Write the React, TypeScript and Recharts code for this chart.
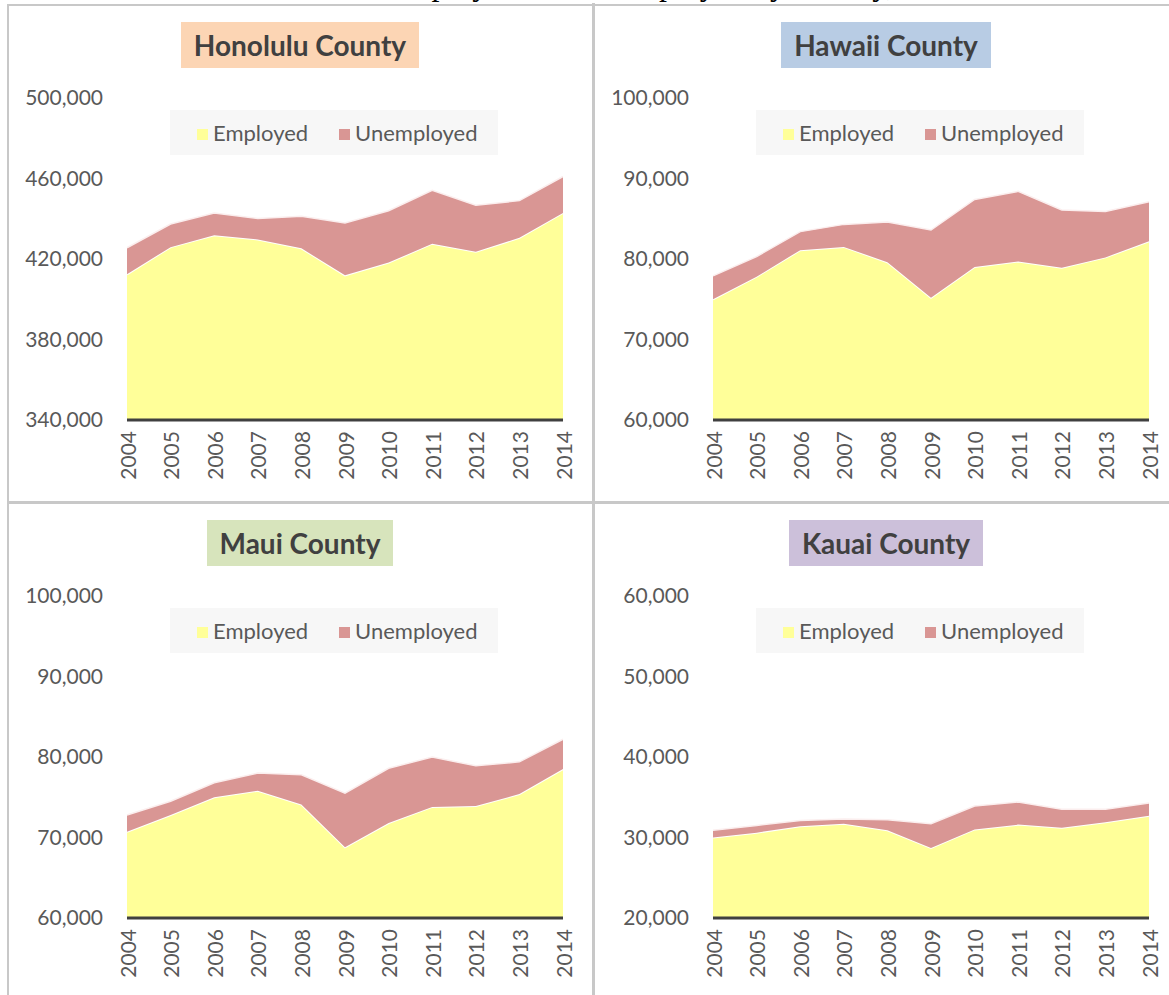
import React from 'react';
import { AreaChart, Area, XAxis, YAxis } from 'recharts';

const years = ['2004', '2005', '2006', '2007', '2008', '2009', '2010', '2011', '2012', '2013', '2014'];

const honoluluEmployed = [412400, 425900, 431800, 429700, 425300, 411900, 418200, 427600, 423600, 430500, 442900];
const honoluluUnemployed = [13200, 11500, 11100, 10400, 15900, 26000, 25800, 26500, 23100, 18500, 18100];
const honoluluTicks = [340000, 380000, 420000, 460000, 500000];

const hawaiiEmployed = [75000, 77800, 81100, 81500, 79600, 75200, 79000, 79700, 78900, 80200, 82200];
const hawaiiUnemployed = [2900, 2500, 2300, 2800, 5000, 8400, 8400, 8700, 7200, 5700, 4900];
const hawaiiTicks = [60000, 70000, 80000, 90000, 100000];

const mauiEmployed = [70700, 72800, 75000, 75800, 74100, 68800, 71800, 73800, 73900, 75400, 78500];
const mauiUnemployed = [2100, 1700, 1800, 2200, 3700, 6700, 6800, 6200, 5000, 4000, 3700];
const mauiTicks = [60000, 70000, 80000, 90000, 100000];

const kauaiEmployed = [30000, 30600, 31400, 31700, 30900, 28700, 31000, 31600, 31200, 31900, 32700];
const kauaiUnemployed = [900, 900, 700, 600, 1300, 3000, 2900, 2800, 2300, 1600, 1600];
const kauaiTicks = [20000, 30000, 40000, 50000, 60000];

const FONT = 'Lato, "Open Sans", sans-serif';
const TEXT = '#595959';
const YELLOW = '#ffff99';
const PINK = '#d99694';
const BORDER = '#c8c8c8';

const PANEL_W = 586;
const PANEL_H = 498;

const YearTick = (props: any) => {
  const { x, y, payload } = props;
  return (
    <text
      x={x}
      y={y}
      transform={`rotate(-90 ${x} ${y})`}
      textAnchor="end"
      dominantBaseline="central"
      fill={TEXT}
      fontSize={21}
      fontFamily={FONT}
    >
      {payload.value}
    </text>
  );
};

type PanelProps = {
  x: number;
  y: number;
  title: string;
  titleBg: string;
  employed: number[];
  unemployed: number[];
  ticks: number[];
};

const CountyPanel = ({ x, y, title, titleBg, employed, unemployed, ticks }: PanelProps) => {
  const rows = years.map((yr, i) => ({ year: yr, Employed: employed[i], Unemployed: unemployed[i] }));
  return (
    <div style={{ position: 'absolute', left: x, top: y, width: PANEL_W, height: PANEL_H }}>
      <AreaChart width={PANEL_W} height={PANEL_H} data={rows} margin={{ top: 94, right: 30, bottom: 6, left: 0 }}>
        <XAxis
          dataKey="year"
          interval={0}
          height={76}
          tickLine={false}
          tickSize={0}
          tickMargin={11}
          axisLine={{ stroke: '#404040', strokeWidth: 3 }}
          tick={<YearTick />}
        />
        <YAxis
          type="number"
          domain={[ticks[0], ticks[ticks.length - 1]]}
          ticks={ticks}
          allowDataOverflow
          width={120}
          axisLine={false}
          tickLine={false}
          tickSize={0}
          tickMargin={24}
          tick={{ fill: TEXT, fontSize: 21, fontFamily: FONT }}
          tickFormatter={(v: number) => v.toLocaleString('en-US')}
        />
        <Area
          type="linear"
          dataKey="Employed"
          stackId="1"
          fill={YELLOW}
          fillOpacity={1}
          stroke="#ffffff"
          strokeWidth={2}
          isAnimationActive={false}
        />
        <Area
          type="linear"
          dataKey="Unemployed"
          stackId="1"
          fill={PINK}
          fillOpacity={1}
          stroke="#fbeeee"
          strokeWidth={1.5}
          isAnimationActive={false}
        />
      </AreaChart>
      <div style={{ position: 'absolute', left: 0, top: 18, width: PANEL_W, textAlign: 'center' }}>
        <span
          style={{
            display: 'inline-block',
            background: titleBg,
            padding: '6px 13px',
            fontFamily: FONT,
            fontWeight: 700,
            fontSize: 28,
            lineHeight: '34px',
            color: '#404040',
          }}
        >
          {title}
        </span>
      </div>
      <div
        style={{
          position: 'absolute',
          left: 163,
          top: 106,
          width: 328,
          height: 45,
          background: '#f7f7f7',
          display: 'flex',
          alignItems: 'center',
          paddingLeft: 27,
          boxSizing: 'border-box',
          fontFamily: FONT,
          fontSize: 22,
          color: TEXT,
        }}
      >
        <span style={{ width: 11, height: 11, background: YELLOW, marginTop: 3, marginRight: 5 }} />
        <span>Employed</span>
        <span style={{ width: 11, height: 11, background: PINK, marginTop: 3, marginLeft: 31, marginRight: 5 }} />
        <span>Unemployed</span>
      </div>
    </div>
  );
};

const App = () => {
  return (
    <div
      style={{
        position: 'absolute',
        left: 0,
        top: 0,
        width: 1169,
        height: 995,
        background: '#ffffff',
        overflow: 'hidden',
      }}
    >
      <svg width={1169} height={8} style={{ position: 'absolute', left: 0, top: 0 }}>
        <text x={387} y={-5} fontFamily='"Liberation Serif", serif' fontSize={32} fill="#000000">
          Employed and Unemployed by County, 2004-2014
        </text>
      </svg>

      <CountyPanel x={7} y={4} title="Honolulu County" titleBg="#fcd5b4" employed={honoluluEmployed} unemployed={honoluluUnemployed} ticks={honoluluTicks} />
      <CountyPanel x={593} y={4} title="Hawaii County" titleBg="#b8cce4" employed={hawaiiEmployed} unemployed={hawaiiUnemployed} ticks={hawaiiTicks} />
      <CountyPanel x={7} y={502} title="Maui County" titleBg="#d7e4bc" employed={mauiEmployed} unemployed={mauiUnemployed} ticks={mauiTicks} />
      <CountyPanel x={593} y={502} title="Kauai County" titleBg="#ccc0da" employed={kauaiEmployed} unemployed={kauaiUnemployed} ticks={kauaiTicks} />

      {/* panel frames */}
      <div style={{ position: 'absolute', left: 7, top: 4, width: 2, height: 991, background: BORDER }} />
      <div style={{ position: 'absolute', left: 592, top: 3, width: 3, height: 992, background: BORDER }} />
      <div style={{ position: 'absolute', left: 7, top: 4, width: 1162, height: 2, background: BORDER }} />
      <div style={{ position: 'absolute', left: 7, top: 501, width: 1162, height: 3, background: BORDER }} />
    </div>
  );
};

export default App;
